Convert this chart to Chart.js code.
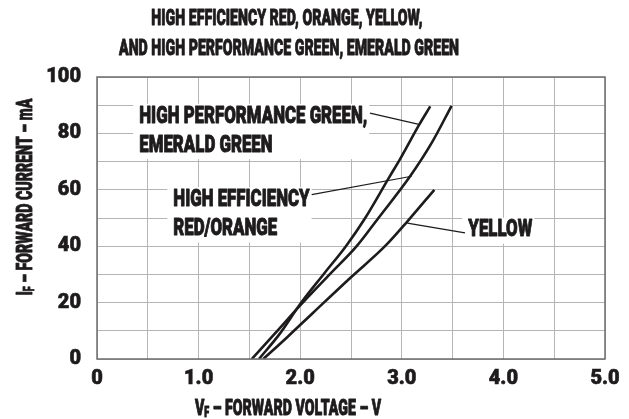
<!DOCTYPE html>
<html lang="en">
<head>
    <meta charset="utf-8" />
    <title>Forward current vs forward voltage</title>
    <script src="https://cdnjs.cloudflare.com/ajax/libs/Chart.js/4.4.0/chart.umd.js"></script>
    <style>
        body { margin: 0; background: #fff; }
        #wrap { width: 629px; height: 419px; position: relative; }
    </style>
</head>
<body>
    <div id="wrap"><canvas id="chart"></canvas></div>
    <script>
        // curve values (V, mA)
        const greenV = [1.594, 1.80, 2.00, 2.24, 2.45, 2.64, 2.877, 2.98, 3.17, 3.28];
        const greenI = [0, 9, 19.5, 30.5, 40, 50, 64.5, 70.7, 83, 89.6];
        const redV = [1.523, 1.75, 2.00, 2.29, 2.556, 2.77, 3.08, 3.30, 3.49];
        const redI = [0, 9, 19, 30, 40, 50, 64.7, 77, 89.8];
        const yellowV = [1.637, 1.88, 2.13, 2.50, 2.835, 3.06, 3.32];
        const yellowI = [0, 8, 16.5, 29, 40, 49, 60];

        const titleLines = ['HIGH EFFICIENCY RED, ORANGE, YELLOW,', 'AND HIGH PERFORMANCE GREEN, EMERALD GREEN'];
        const xTitle = ['V', 'F', ' \u2013 FORWARD VOLTAGE \u2013 V'];
        const yTitle = ['I', 'F', ' \u2013 FORWARD CURRENT \u2013 mA'];

        // callout labels, placed in data units
        const callouts = [
            { lines: ['HIGH PERFORMANCE GREEN,', 'EMERALD GREEN'], v: 0.416, i: [85.9, 75.5], from: [2.687, 87.2], to: [3.179, 83.1] },
            { lines: ['HIGH EFFICIENCY', 'RED/ORANGE'], v: 0.751, i: [56.3, 45.9], from: [2.113, 58.3], to: [3.097, 64.8] },
            { lines: ['YELLOW'], v: 3.655, i: [45.5], from: [3.622, 44.7], to: [3.054, 48.2] }
        ];

        const FONT = "Roboto, 'Liberation Sans', sans-serif";
        const INK = '#1d1b1c';
        const BIG = '900 22px ' + FONT;
        const CALL = '900 23px ' + FONT;
        const SMALL = '900 14px ' + FONT;
        let SQ = 1;   // horizontal squeeze to imitate the condensed face
        let SQC = 1;  // same, for the callouts

        function pts(xs, ys) {
            return xs.map((x, k) => ({ x: x, y: ys[k] }));
        }

        function txt(ctx, s, x, y, align, sq) {
            ctx.save();
            ctx.translate(x, y);
            ctx.scale(sq || SQ, 1);
            ctx.textAlign = align || 'left';
            ctx.textBaseline = 'middle';
            ctx.lineWidth = 0.9;
            ctx.lineJoin = 'round';
            ctx.strokeText(s, 0, 0);
            ctx.fillText(s, 0, 0);
            ctx.restore();
        }

        function drawSub(ctx, parts, cx, cy) {
            ctx.font = BIG; const w0 = ctx.measureText(parts[0]).width * SQ;
            const w2 = ctx.measureText(parts[2]).width * SQ;
            ctx.font = SMALL; const w1 = ctx.measureText(parts[1]).width * SQ;
            let x = cx - (w0 + w1 + w2) / 2;
            ctx.font = BIG; txt(ctx, parts[0], x, cy); x += w0;
            ctx.font = SMALL; txt(ctx, parts[1], x, cy + 4); x += w1;
            ctx.font = BIG; txt(ctx, parts[2], x, cy);
        }

        const decor = {
            id: 'decor',
            beforeDatasetsDraw(chart) {
                const ctx = chart.ctx, xs = chart.scales.x, ys = chart.scales.y;
                ctx.save();
                ctx.font = BIG;
                SQ = 340 / ctx.measureText(titleLines[1]).width;
                ctx.font = CALL;
                SQC = 228 / ctx.measureText(callouts[0].lines[0]).width;
                ctx.fillStyle = '#fff';
                callouts.forEach(c => {
                    const w = Math.max(...c.lines.map(l => ctx.measureText(l).width)) * SQC;
                    const x = xs.getPixelForValue(c.v);
                    const top = ys.getPixelForValue(c.i[0]) - 13;
                    const bot = ys.getPixelForValue(c.i[c.i.length - 1]) + 13;
                    ctx.fillRect(x - 6, top, w + 8, bot - top);
                });
                ctx.restore();
            },
            afterDraw(chart) {
                const ctx = chart.ctx, a = chart.chartArea, xs = chart.scales.x, ys = chart.scales.y;
                ctx.save();
                ctx.strokeStyle = '#6d6d6d';
                ctx.lineWidth = 1.5;
                ctx.strokeRect(a.left, a.top, a.right - a.left, a.bottom - a.top);

                ctx.fillStyle = INK;
                ctx.strokeStyle = INK;
                ctx.font = BIG;
                txt(ctx, titleLines[0], 287, 19, 'center');
                txt(ctx, titleLines[1], 289, 49, 'center');

                drawSub(ctx, xTitle, 288, 409);
                ctx.save();
                ctx.translate(26, 197);
                ctx.rotate(-Math.PI / 2);
                drawSub(ctx, yTitle, 0, 0);
                ctx.restore();

                ctx.font = CALL;
                callouts.forEach(c => {
                    const x = xs.getPixelForValue(c.v);
                    c.lines.forEach((l, k) => txt(ctx, l, x, ys.getPixelForValue(c.i[k]), 'left', SQC));
                    ctx.lineWidth = 1.2;
                    ctx.beginPath();
                    ctx.moveTo(xs.getPixelForValue(c.from[0]), ys.getPixelForValue(c.from[1]));
                    ctx.lineTo(xs.getPixelForValue(c.to[0]), ys.getPixelForValue(c.to[1]));
                    ctx.stroke();
                });
                ctx.restore();
            }
        };

        const line = (data) => ({
            data: data,
            borderColor: INK,
            borderWidth: 2.6,
            pointRadius: 0,
            fill: false,
            cubicInterpolationMode: 'monotone'
        });

        const tickFont = { family: FONT, size: 20, weight: '900' };

        new Chart(document.getElementById('chart').getContext('2d'), {
            type: 'line',
            data: {
                datasets: [
                    line(pts(greenV, greenI)),
                    line(pts(redV, redI)),
                    line(pts(yellowV, yellowI))
                ]
            },
            options: {
                responsive: true,
                maintainAspectRatio: false,
                animation: false,
                layout: { padding: { top: 77, right: 24, left: 0, bottom: 0 } },
                plugins: { legend: { display: false }, tooltip: { enabled: false } },
                scales: {
                    x: {
                        type: 'linear',
                        min: 0,
                        max: 5,
                        afterFit: s => { s.height = 60; },
                        grid: { color: '#b5b5b5', lineWidth: 1, drawTicks: false },
                        border: { display: false },
                        ticks: {
                            stepSize: 0.5,
                            padding: 8,
                            color: INK,
                            textStrokeColor: INK,
                            textStrokeWidth: 0.6,
                            font: tickFont,
                            maxRotation: 0,
                            autoSkip: false,
                            callback: v => v % 1 === 0 ? (v === 0 ? '0' : v.toFixed(1)) : ''
                        }
                    },
                    y: {
                        min: 0,
                        max: 100,
                        afterFit: s => { s.width = 97; },
                        grid: { color: '#b5b5b5', lineWidth: 1, drawTicks: false },
                        border: { display: false },
                        ticks: {
                            stepSize: 10,
                            padding: 16,
                            color: INK,
                            textStrokeColor: INK,
                            textStrokeWidth: 0.6,
                            font: tickFont,
                            autoSkip: false,
                            callback: v => v % 20 === 0 ? String(v) : ''
                        }
                    }
                }
            },
            plugins: [decor]
        });
    </script>
</body>
</html>
